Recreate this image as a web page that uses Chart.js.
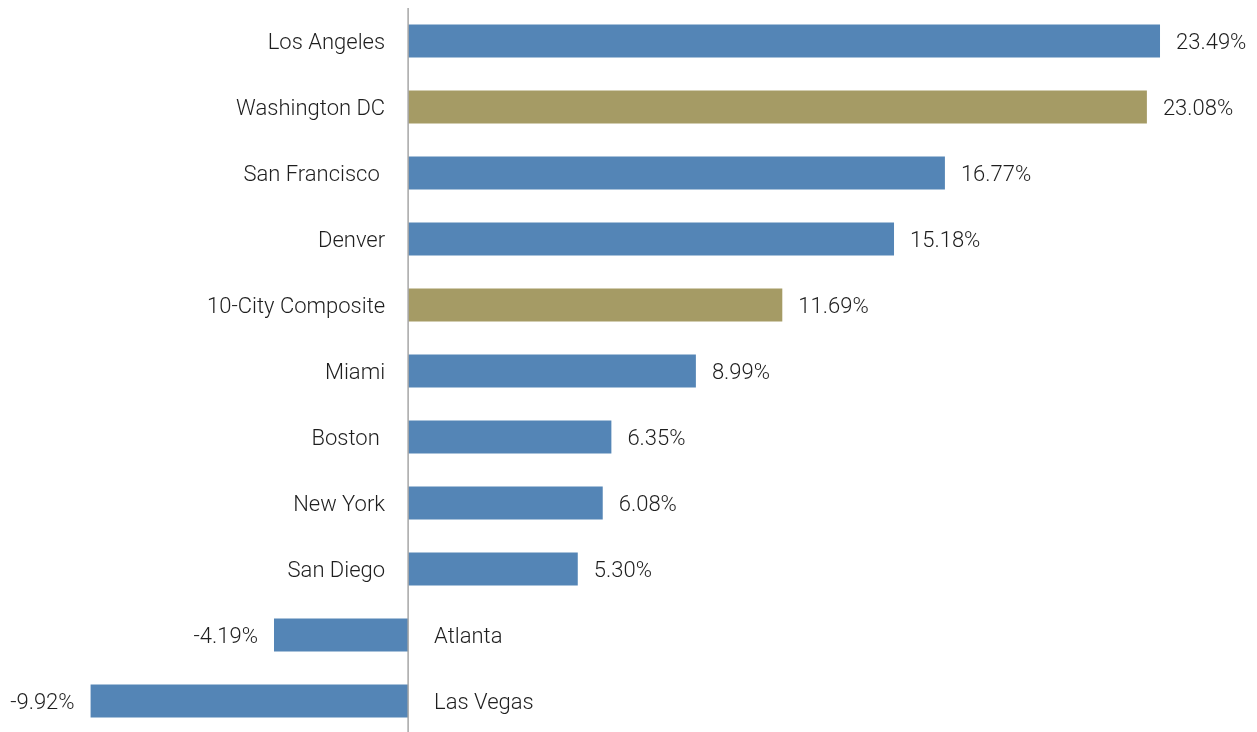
<!DOCTYPE html>
<html>
<head>
<meta charset="utf-8">
<script src="https://cdn.jsdelivr.net/npm/chart.js@4/dist/chart.umd.min.js"></script>
<style>
  html, body { margin: 0; padding: 0; background: #fff; overflow: hidden; }
  #wrap { position: relative; width: 1257px; height: 734px; }
</style>
</head>
<body>
<div id="wrap"><canvas id="chart"></canvas></div>
<script>
const cities = ['Los Angeles', 'Washington DC', 'San Francisco ', 'Denver', '10-City Composite',
  'Miami', 'Boston ', 'New York', 'San Diego', 'Atlanta', 'Las Vegas'];
const changes = [23.49, 23.08, 16.77, 15.18, 11.69, 8.99, 6.35, 6.08, 5.30, -4.19, -9.92];
const highlighted = ['Washington DC', '10-City Composite'];

const BLUE = '#5485b6';
const OLIVE = '#a59b65';
const FONT = '300 22px Roboto';
const TEXT = '#1e1e1e';

// zero line + category labels + value labels
const labelPlugin = {
  id: 'labels',
  afterDatasetsDraw(chart) {
    const ctx = chart.ctx;
    const x = chart.scales.x;
    const area = chart.chartArea;
    const zero = x.getPixelForValue(0);

    ctx.save();
    ctx.strokeStyle = '#a6a6a6';
    ctx.lineWidth = 1.5;
    ctx.beginPath();
    ctx.moveTo(zero, area.top);
    ctx.lineTo(zero, area.bottom);
    ctx.stroke();

    ctx.font = FONT;
    ctx.fillStyle = TEXT;
    ctx.textBaseline = 'middle';
    chart.getDatasetMeta(0).data.forEach((bar, i) => {
      const v = changes[i];
      const y = bar.y + 2;
      if (v >= 0) {
        ctx.textAlign = 'right';
        ctx.fillText(cities[i], zero - 23, y);
        ctx.textAlign = 'left';
        ctx.fillText(v.toFixed(2) + '%', bar.x + 16, y);
      } else {
        ctx.textAlign = 'left';
        ctx.fillText(cities[i], zero + 26, y);
        ctx.textAlign = 'right';
        ctx.fillText(v.toFixed(2) + '%', bar.x - 16, y);
      }
    });
    ctx.restore();
  }
};

new Chart('chart', {
  type: 'bar',
  data: {
    labels: cities,
    datasets: [{
      data: changes,
      backgroundColor: cities.map(c => highlighted.includes(c) ? OLIVE : BLUE),
      borderWidth: 0,
      barPercentage: 0.5,
      categoryPercentage: 1
    }]
  },
  options: {
    indexAxis: 'y',
    responsive: true,
    maintainAspectRatio: false,
    animation: false,
    layout: { padding: { top: 8, left: 0, right: 0, bottom: 0 } },
    plugins: { legend: { display: false }, tooltip: { enabled: false } },
    scales: {
      x: { display: false, min: -12.75, max: 26.52 },
      y: { display: false }
    }
  },
  plugins: [labelPlugin]
});
</script>
</body>
</html>
